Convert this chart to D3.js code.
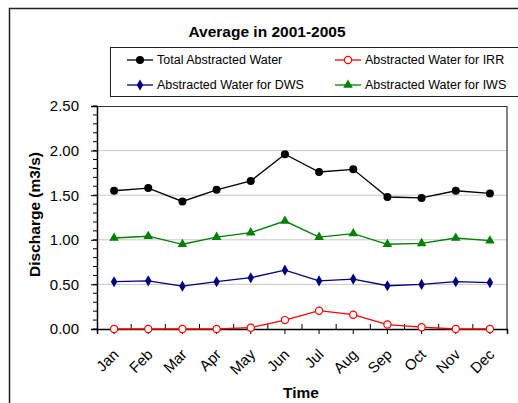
<!DOCTYPE html>
<html>
<head>
<meta charset="utf-8">
<script src="https://cdn.jsdelivr.net/npm/d3@7"></script>
<style>
  body { margin: 0; background: #fff; }
  svg { display: block; font-family: Arial, "Liberation Sans", sans-serif; }
</style>
</head>
<body>
<div id="chart"></div>
<script>
const months = ["Jan", "Feb", "Mar", "Apr", "May", "Jun", "Jul", "Aug", "Sep", "Oct", "Nov", "Dec"];
const totalWater = [1.55, 1.58, 1.43, 1.56, 1.66, 1.96, 1.76, 1.79, 1.48, 1.47, 1.55, 1.52];
const irrWater = [0, 0, 0, 0, 0.015, 0.10, 0.205, 0.16, 0.05, 0.02, 0, 0];
const dwsWater = [0.53, 0.54, 0.48, 0.53, 0.575, 0.66, 0.54, 0.56, 0.485, 0.50, 0.53, 0.52];
const iwsWater = [1.02, 1.04, 0.95, 1.03, 1.08, 1.21, 1.03, 1.07, 0.95, 0.96, 1.02, 0.99];
const yTicks = [0, 0.5, 1.0, 1.5, 2.0, 2.5];

const series = [
  { name: "Total Abstracted Water", values: totalWater, color: "#000000", marker: "circle" },
  { name: "Abstracted Water for IRR", values: irrWater, color: "#ff0000", marker: "open" },
  { name: "Abstracted Water for DWS", values: dwsWater, color: "#000080", marker: "diamond" },
  { name: "Abstracted Water for IWS", values: iwsWater, color: "#008000", marker: "triangle" },
];

const width = 518, height = 403;
const margin = { top: 106, right: 11, bottom: 74, left: 97 };
const innerW = width - margin.left - margin.right;
const innerH = height - margin.top - margin.bottom;

const svg = d3.select("#chart").append("svg").attr("width", width).attr("height", height);

// Outer chart frame
svg.append("rect")
  .attr("x", 9.5).attr("y", 8.5).attr("width", 520).attr("height", 410)
  .attr("fill", "#fff").attr("stroke", "#222").attr("stroke-width", 1.5);

// Title
svg.append("text")
  .attr("x", 267).attr("y", 37)
  .attr("text-anchor", "middle")
  .style("font-size", "15.5px").style("font-weight", "bold")
  .text("Average in 2001-2005");

const x = d3.scaleBand().domain(months).range([0, innerW]);
const y = d3.scaleLinear().domain([0, 2.5]).range([innerH, 0]);

const g = svg.append("g").attr("transform", `translate(${margin.left},${margin.top})`);

// Gridlines
g.selectAll(".grid").data(yTicks.filter((d) => d > 0 && d < 2.5)).join("line")
  .attr("x1", 0).attr("x2", innerW)
  .attr("y1", (d) => y(d)).attr("y2", (d) => y(d))
  .attr("stroke", "#c8c8c8").attr("stroke-width", 1);

// Plot border (top + right)
g.append("path")
  .attr("d", `M0,0.5H${innerW}V${innerH}`)
  .attr("fill", "none").attr("stroke", "#333").attr("stroke-width", 1.2);

// Y axis
const yAxis = g.append("g")
  .call(d3.axisLeft(y).tickValues(yTicks).tickFormat(d3.format(".2f")).tickSize(6).tickPadding(12));
yAxis.select(".domain").attr("stroke", "#000").attr("stroke-width", 1.5);
yAxis.selectAll("text").style("font-size", "15px").attr("fill", "#000");

// Minor y ticks
g.selectAll(".ymin").data(d3.range(0, 2.51, 0.1)).join("line")
  .attr("x1", -4).attr("x2", 0)
  .attr("y1", (d) => y(d)).attr("y2", (d) => y(d))
  .attr("stroke", "#000").attr("stroke-width", 1);

// X axis
const xAxis = g.append("g")
  .attr("transform", `translate(0,${innerH})`)
  .call(d3.axisBottom(x).tickSize(5).tickPadding(6));
xAxis.select(".domain").attr("stroke", "#000").attr("stroke-width", 1.5);
xAxis.selectAll("text")
  .style("font-size", "15px").attr("fill", "#000")
  .attr("text-anchor", "end")
  .attr("transform", "translate(-6,15) rotate(-45)")
  .attr("dy", "0.35em");

// Category boundary ticks (inside)
g.selectAll(".xb").data(months.slice(1)).join("line")
  .attr("x1", (d) => x(d)).attr("x2", (d) => x(d))
  .attr("y1", innerH - 5).attr("y2", innerH)
  .attr("stroke", "#000");

// Axis titles
svg.append("text")
  .attr("transform", `translate(40,${margin.top + innerH / 2 - 3}) rotate(-90)`)
  .attr("text-anchor", "middle")
  .style("font-size", "15.5px").style("font-weight", "bold")
  .text("Discharge (m3/s)");

svg.append("text")
  .attr("x", margin.left + innerW / 2 - 1).attr("y", 398)
  .attr("text-anchor", "middle")
  .style("font-size", "15.5px").style("font-weight", "bold")
  .text("Time");

const cx = (i) => x(months[i]) + x.bandwidth() / 2;
const line = d3.line().x((d, i) => cx(i)).y((d) => y(d));

function drawMarker(sel, type, color) {
  if (type === "circle") {
    sel.append("circle").attr("r", 4).attr("fill", color);
  } else if (type === "open") {
    sel.append("circle").attr("r", 3.6).attr("fill", "#fff").attr("stroke", color).attr("stroke-width", 1.2);
  } else if (type === "diamond") {
    sel.append("path").attr("d", d3.symbol(d3.symbolDiamond, 36)()).attr("fill", color);
  } else {
    sel.append("path").attr("d", d3.symbol(d3.symbolTriangle, 40)()).attr("fill", color);
  }
}

// Draw in an order so IRR sits on top near zero
[series[0], series[3], series[2], series[1]].forEach((s) => {
  g.append("path")
    .datum(s.values)
    .attr("d", line)
    .attr("fill", "none")
    .attr("stroke", s.color)
    .attr("stroke-width", 1.3);

  s.values.forEach((v, i) => {
    const m = g.append("g").attr("transform", `translate(${cx(i)},${y(v)})`);
    drawMarker(m, s.marker, s.color);
  });
});

// Legend
const legend = svg.append("g");
legend.append("rect")
  .attr("x", 110.5).attr("y", 47.5).attr("width", 420).attr("height", 49)
  .attr("fill", "#fff").attr("stroke", "#222").attr("stroke-width", 1);

const legendPos = [
  { x: 127, y: 60 },
  { x: 335, y: 60 },
  { x: 127, y: 85 },
  { x: 335, y: 85 },
];

series.forEach((s, i) => {
  const p = legendPos[i];
  const item = legend.append("g").attr("transform", `translate(${p.x},${p.y})`);
  item.append("line").attr("x1", 0).attr("x2", 26).attr("stroke", s.color).attr("stroke-width", 1.3);
  const m = item.append("g").attr("transform", "translate(13,0)");
  drawMarker(m, s.marker, s.color);
  item.append("text")
    .attr("x", 30).attr("dy", "0.35em")
    .style("font-size", "12.5px")
    .text(s.name);
});
</script>
</body>
</html>
